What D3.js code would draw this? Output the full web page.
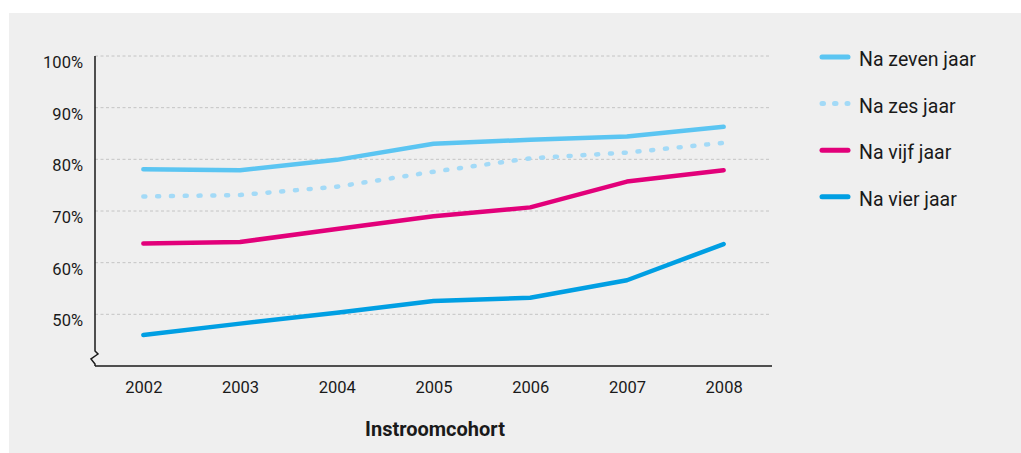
<!DOCTYPE html>
<html>
<head>
<meta charset="utf-8">
<script src="https://cdn.jsdelivr.net/npm/d3@7"></script>
<style>
    body { margin: 0; background: #fff; }
    text { font-family: Roboto, "Noto Sans", sans-serif; fill: #1a1a1a; }
    .tick-label { font-size: 16.5px; }
    .legend-label { font-size: 19.5px; }
    .title { font-size: 20px; font-weight: bold; }
</style>
</head>
<body>
<svg width="1021" height="453"></svg>
<script>
var years = ["2002", "2003", "2004", "2005", "2006", "2007", "2008"];
var yTicks = [50, 60, 70, 80, 90, 100];

var naZevenJaar = [78.1, 77.9, 79.9, 83.0, 83.8, 84.4, 86.3];
var naZesJaar   = [72.8, 73.1, 74.7, 77.6, 80.2, 81.3, 83.2];
var naVijfJaar  = [63.7, 64.0, 66.5, 69.0, 70.7, 75.7, 77.9];
var naVierJaar  = [46.0, 48.2, 50.3, 52.6, 53.2, 56.6, 63.6];

var seriesNames = ["Na zeven jaar", "Na zes jaar", "Na vijf jaar", "Na vier jaar"];
var seriesColors = ["#5bc5f2", "#a3daf7", "#e2007a", "#009fe3"];

function main() {
    var svg = d3.select("svg"),
        width = +svg.attr("width"),
        height = +svg.attr("height");

    var series = [naZevenJaar, naZesJaar, naVijfJaar, naVierJaar];

    // grey panel
    svg.append("rect")
       .attr("x", 9).attr("y", 13)
       .attr("width", width - 9).attr("height", height - 13)
       .attr("fill", "#efefef");

    var x = d3.scalePoint()
              .domain(years)
              .range([95, 772])
              .padding(0.5);

    var y = d3.scaleLinear()
              .domain([40, 100])
              .range([366, 56]);

    // gridlines
    svg.append("g")
       .selectAll("line")
       .data(yTicks)
       .enter().append("line")
       .attr("x1", 95).attr("x2", 770)
       .attr("y1", function(d) { return y(d); })
       .attr("y2", function(d) { return y(d); })
       .attr("stroke", "#c4c4c4")
       .attr("stroke-width", 1)
       .attr("stroke-dasharray", "3,2.5");

    // y tick labels (sit just under the gridline)
    svg.append("g")
       .selectAll("text")
       .data(yTicks)
       .enter().append("text")
       .attr("class", "tick-label")
       .attr("x", 83)
       .attr("y", function(d) { return y(d) + 12; })
       .attr("text-anchor", "end")
       .text(function(d) { return d + "%"; });

    // y axis with break
    var x0 = x.range()[0], yb = y.range()[0];
    svg.append("path")
       .attr("d", d3.line()([[x0, y(100)], [x0, yb - 15], [x0 + 3, yb - 12],
                            [x0 - 4, yb - 7], [x0, yb - 2], [x0, yb]]))
       .attr("fill", "none")
       .attr("stroke", "#1a1a1a")
       .attr("stroke-width", 1.5);

    // x axis
    var xAxis = svg.append("g")
       .attr("transform", "translate(0," + yb + ")")
       .call(d3.axisBottom(x).tickSize(0).tickPadding(15));
    xAxis.select(".domain")
         .attr("d", "M" + x0 + ",0H772")
         .attr("stroke", "#1a1a1a")
         .attr("stroke-width", 1.5);
    xAxis.selectAll("text")
         .attr("class", "tick-label")
         .attr("font-family", null)
         .attr("font-size", null)
         .attr("fill", null);

    svg.append("text")
       .attr("class", "title")
       .attr("x", 435)
       .attr("y", 436)
       .attr("text-anchor", "middle")
       .text("Instroomcohort");

    // lines
    var line = d3.line()
                 .x(function(d, i) { return x(years[i]); })
                 .y(function(d) { return y(d); });

    var g = svg.append("g");
    series.forEach(function(s, i) {
        g.append("path")
         .attr("d", line(s))
         .attr("fill", "none")
         .attr("stroke", seriesColors[i])
         .attr("stroke-width", 4.5)
         .attr("stroke-linecap", "round")
         .attr("stroke-linejoin", "round")
         .attr("stroke-dasharray", i == 1 ? "2,11.8" : null);
    });

    // legend
    var legend = svg.append("g")
                    .attr("transform", "translate(820,57)")
                    .selectAll("g")
                    .data(seriesNames)
                    .enter().append("g")
                    .attr("transform", function(d, i) { return "translate(0," + i * 46.6 + ")"; });

    legend.append("line")
          .attr("x1", 2).attr("x2", 28)
          .attr("stroke", function(d, i) { return seriesColors[i]; })
          .attr("stroke-width", 5)
          .attr("stroke-linecap", "round")
          .attr("stroke-dasharray", function(d, i) { return i == 1 ? "1.5,11" : null; });

    legend.append("text")
          .attr("class", "legend-label")
          .attr("x", 39)
          .attr("y", 9)
          .text(function(d) { return d; });
}

main();
</script>
</body>
</html>
